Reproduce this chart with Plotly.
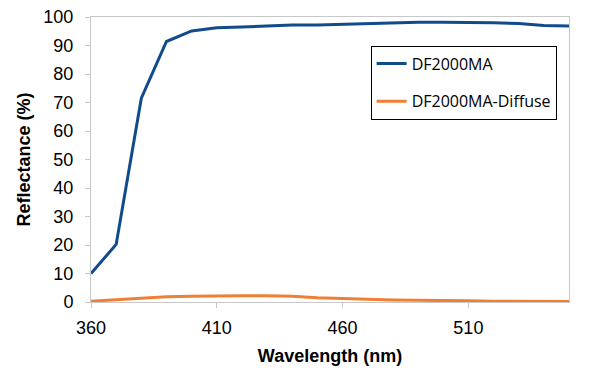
import plotly.graph_objects as go

# Reflectance spectra
wavelength = [360, 370, 380, 390, 400, 410, 420, 430, 440, 450,
              460, 470, 480, 490, 500, 510, 520, 530, 540, 550]
df2000ma = [10.0, 20.2, 71.5, 91.4, 95.1, 96.2, 96.5, 96.9, 97.2, 97.2,
            97.5, 97.8, 98.0, 98.2, 98.2, 98.2, 98.0, 97.7, 97.0, 96.8]
df2000ma_diffuse = [0.3, 0.8, 1.5, 1.8, 2.0, 2.2, 2.2, 2.2, 2.0, 1.5,
                    1.2, 0.9, 0.7, 0.6, 0.4, 0.4, 0.3, 0.2, 0.2, 0.2]
x_ticks = [360, 410, 460, 510]
y_ticks = list(range(0, 101, 10))

fig = go.Figure()
fig.add_trace(go.Scatter(x=wavelength, y=df2000ma, mode="lines", name="DF2000MA",
                         legendgroup="a", line=dict(color="#114B8C", width=3)))
fig.add_trace(go.Scatter(x=wavelength, y=df2000ma_diffuse, mode="lines", name="DF2000MA-Diffuse",
                         legendgroup="b", line=dict(color="#F07F33", width=3)))

axis_font = dict(family="Liberation Sans, Arial", size=18, color="black")
fig.update_layout(
    width=598, height=379,
    margin=dict(l=91, r=29, t=17, b=77, autoexpand=False),
    plot_bgcolor="white", paper_bgcolor="white",
    showlegend=True,
    legend=dict(x=0.585, y=0.9, xanchor="left", yanchor="top",
                bordercolor="black", borderwidth=1, bgcolor="white",
                font=dict(family="Open Sans, Lato", size=16, color="black"),
                traceorder="grouped", tracegroupgap=14, itemwidth=30),
    xaxis=dict(range=[360, 550], tickvals=x_ticks, showgrid=False, zeroline=False,
               showline=True, linecolor="#c8c8c8", linewidth=1, mirror=True,
               ticks="outside", ticklen=5, tickcolor="#c8c8c8",
               tickfont=axis_font, automargin=False, ticklabelstandoff=4,
               title=dict(text="<b>Wavelength (nm)</b>", font=axis_font, standoff=12)),
    yaxis=dict(range=[0, 100], tickvals=y_ticks, showgrid=False, zeroline=False,
               showline=True, linecolor="#c8c8c8", linewidth=1, mirror=True,
               ticks="outside", ticklen=5, tickcolor="#c8c8c8",
               tickfont=axis_font, automargin=False, ticklabelstandoff=8,
               title=dict(text="<b>Reflectance (%)</b>", font=axis_font, standoff=8)),
)

# drop the browser's default 8px body margin so the chart sits at the page origin
fig.write_html("out.html", config={"displayModeBar": False},
               post_script="document.body.style.margin='0';")
